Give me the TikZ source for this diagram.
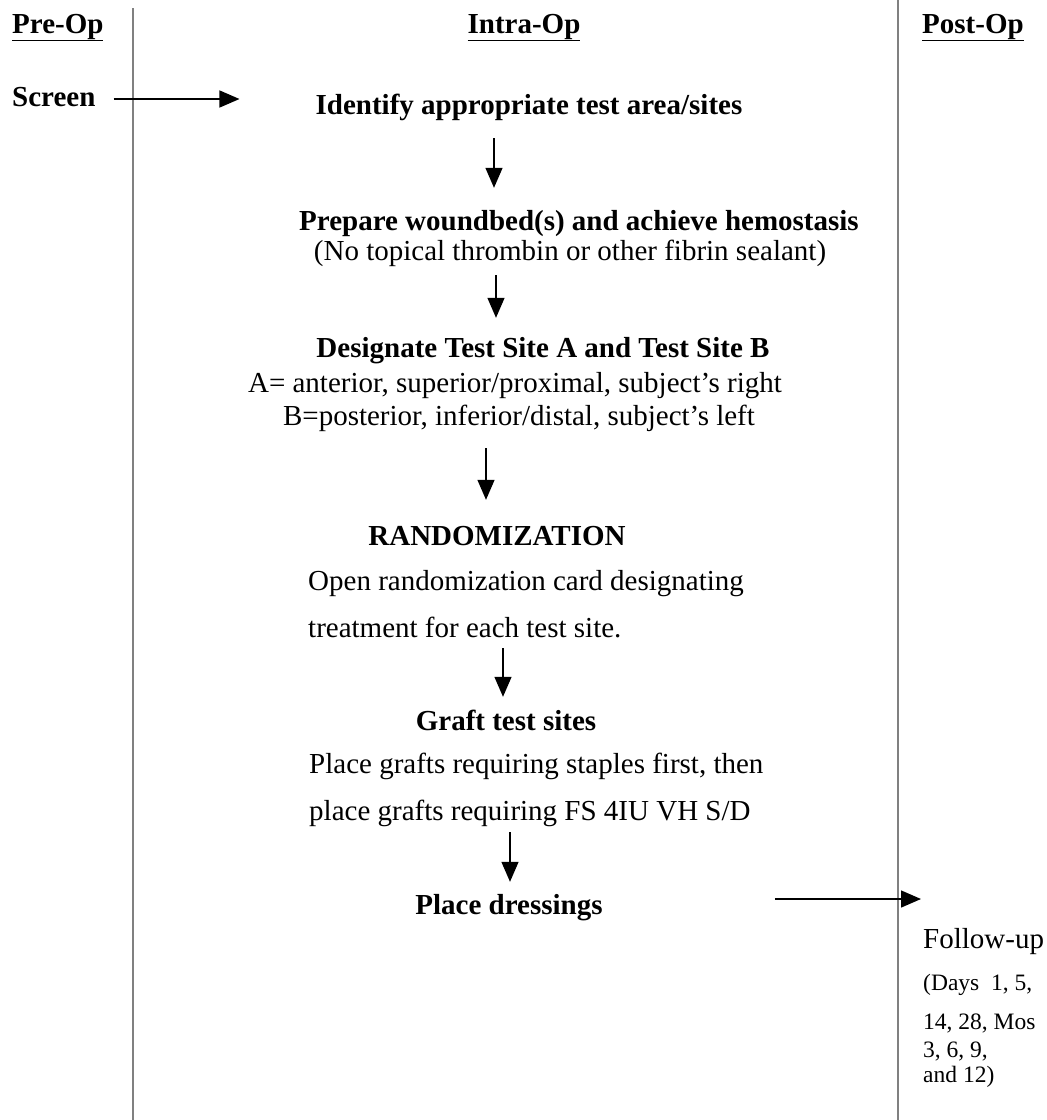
\documentclass[tikz,border=0pt]{standalone}
\usepackage{fontspec}
\setmainfont{Liberation Serif}
\usetikzlibrary{arrows.meta}
\tikzset{
  bt/.style={font=\bfseries\fontsize{29}{34}\selectfont, inner sep=0pt, anchor=base, text height=20pt, text depth=6pt},
  rt/.style={font=\fontsize{29}{34}\selectfont, inner sep=0pt, anchor=base, text height=20pt, text depth=6pt},
  rtl/.style={rt, anchor=base west},
  st/.style={font=\fontsize{23.5}{28}\selectfont, inner sep=0pt, anchor=base west},
  arr/.style={line width=1.4pt, -{Triangle[length=20pt,width=17pt]}},
  lane/.style={line width=1.8pt, draw=black!50},
}
\begin{document}
\begin{tikzpicture}[x=1pt,y=-1pt]
\useasboundingbox (0,0) rectangle (1047,1120);
% lanes
\draw[lane] (133,8) -- (133,1120);
\draw[lane] (898,0) -- (898,1120);
% headers
\node[bt, anchor=base west] (pre) at (12,33) {\underline{Pre-Op}};
\node[bt] (intra) at (524,33) {\underline{Intra-Op}};
\node[bt, anchor=base west] (post) at (922,33) {\underline{Post-Op}};
% texts
\node[bt, anchor=base west] (screen) at (12,106) {Screen};
\node[bt] (identify) at (529,114) {Identify appropriate test area/sites};
\node[bt] (prepare) at (579,230) {Prepare woundbed(s) and achieve hemostasis};
\node[rt] (notopical) at (570,260) {(No topical thrombin or other fibrin sealant)};
\node[bt] (designate) at (543,357) {Designate Test Site A and Test Site B};
\node[rt] (aline) at (515,392) {A= anterior, superior/proximal, subject’s right};
\node[rt] (bline) at (519,425) {B=posterior, inferior/distal, subject’s left};
\node[bt] (random) at (497,545) {RANDOMIZATION};
\node[rtl] (open) at (308,590) {Open randomization card designating};
\node[rtl] (treat) at (308,637) {treatment for each test site.};
\node[bt] (graft) at (506,730) {Graft test sites};
\node[rtl] (pg1) at (309,773) {Place grafts requiring staples first, then};
\node[rtl] (pg2) at (309,820) {place grafts requiring FS 4IU VH S/D};
\node[bt] (dress) at (509,914) {Place dressings};
\node[rtl] (follow) at (923,948) {Follow-up};
\node[st] (days) at (923,990) {(Days\ \ 1, 5,};
\node[st] (d14) at (923,1029) {14, 28, Mos};
\node[st] (d3) at (923,1057) {3, 6, 9,};
\node[st] (d12) at (923,1082) {and 12)};
% arrow x positions and free end
\coordinate (ax1) at (494,0);
\coordinate (ax2) at (496,0);
\coordinate (ax3) at (486,0);
\coordinate (ax4) at (503,0);
\coordinate (ax5) at (510,0);
\coordinate (fu) at (921,899);
\draw[arr, shorten <=18pt, shorten >=76pt] (screen.east |- 0,99) -- (identify.west |- 0,99);
\draw[arr, shorten <=18pt, shorten >=22pt] (identify.south -| ax1) -- (prepare.north -| ax1);
\draw[arr, shorten <=9pt, shorten >=19pt] (notopical.south -| ax2) -- (designate.north -| ax2);
\draw[arr, shorten <=17pt, shorten >=25pt] (bline.south -| ax3) -- (random.north -| ax3);
\draw[arr, shorten <=5pt, shorten >=13pt] (treat.south -| ax4) -- (graft.north -| ax4);
\draw[arr, shorten <=6pt, shorten >=12pt] (pg2.south -| ax5) -- (dress.north -| ax5);
\draw[arr, shorten <=172pt] (dress.east |- fu) -- (fu);
\end{tikzpicture}
\end{document}
